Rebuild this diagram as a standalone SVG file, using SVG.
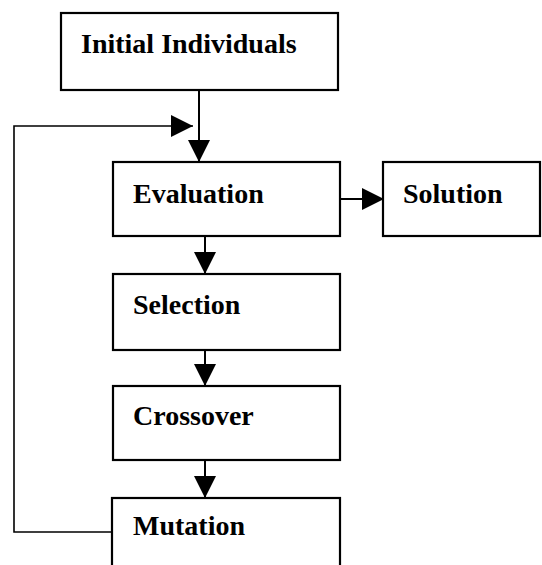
<svg xmlns="http://www.w3.org/2000/svg" width="542" height="565" viewBox="0 0 542 565">
<style>
  .box { fill: #ffffff; stroke: #000000; stroke-width: 2.2; }
  .lbl { font-family: "Liberation Serif", "Times New Roman", serif; font-weight: bold; font-size: 28px; fill: #000000; }
  .conn { fill: none; stroke: #000000; stroke-width: 2; }
  .thin { fill: none; stroke: #000000; stroke-width: 1.6; }
</style>
<defs>
  <marker id="arrow" markerUnits="userSpaceOnUse" markerWidth="22" markerHeight="22" viewBox="0 0 20 20" refX="20" refY="10" orient="auto">
    <path d="M0,0 L20,10 L0,20 Z" fill="#000000"/>
  </marker>
</defs>
<rect width="542" height="565" fill="#ffffff"/>
<g id="connectors">
  <line class="conn" x1="199" y1="90" x2="199" y2="162" marker-end="url(#arrow)"/>
  <polyline class="thin" points="112,532 14,532 14,126 193,126" marker-end="url(#arrow)"/>
  <line class="conn" x1="340" y1="199" x2="384" y2="199" marker-end="url(#arrow)"/>
  <line class="conn" x1="205" y1="236" x2="205" y2="274" marker-end="url(#arrow)"/>
  <line class="conn" x1="205" y1="350" x2="205" y2="386" marker-end="url(#arrow)"/>
  <line class="conn" x1="205" y1="460" x2="205" y2="498" marker-end="url(#arrow)"/>
</g>
<g id="node-initial">
  <rect class="box" x="61" y="13" width="277" height="77"/>
  <text class="lbl" x="81" y="53">Initial Individuals</text>
</g>
<g id="node-evaluation">
  <rect class="box" x="113" y="162" width="227" height="74"/>
  <text class="lbl" x="133" y="203">Evaluation</text>
</g>
<g id="node-solution">
  <rect class="box" x="383" y="162" width="157" height="74"/>
  <text class="lbl" x="403" y="203">Solution</text>
</g>
<g id="node-selection">
  <rect class="box" x="113" y="274" width="227" height="76"/>
  <text class="lbl" x="133" y="314">Selection</text>
</g>
<g id="node-crossover">
  <rect class="box" x="113" y="386" width="227" height="74"/>
  <text class="lbl" x="133" y="425">Crossover</text>
</g>
<g id="node-mutation">
  <rect class="box" x="112" y="498" width="228" height="80"/>
  <text class="lbl" x="133" y="535">Mutation</text>
</g>
</svg>
